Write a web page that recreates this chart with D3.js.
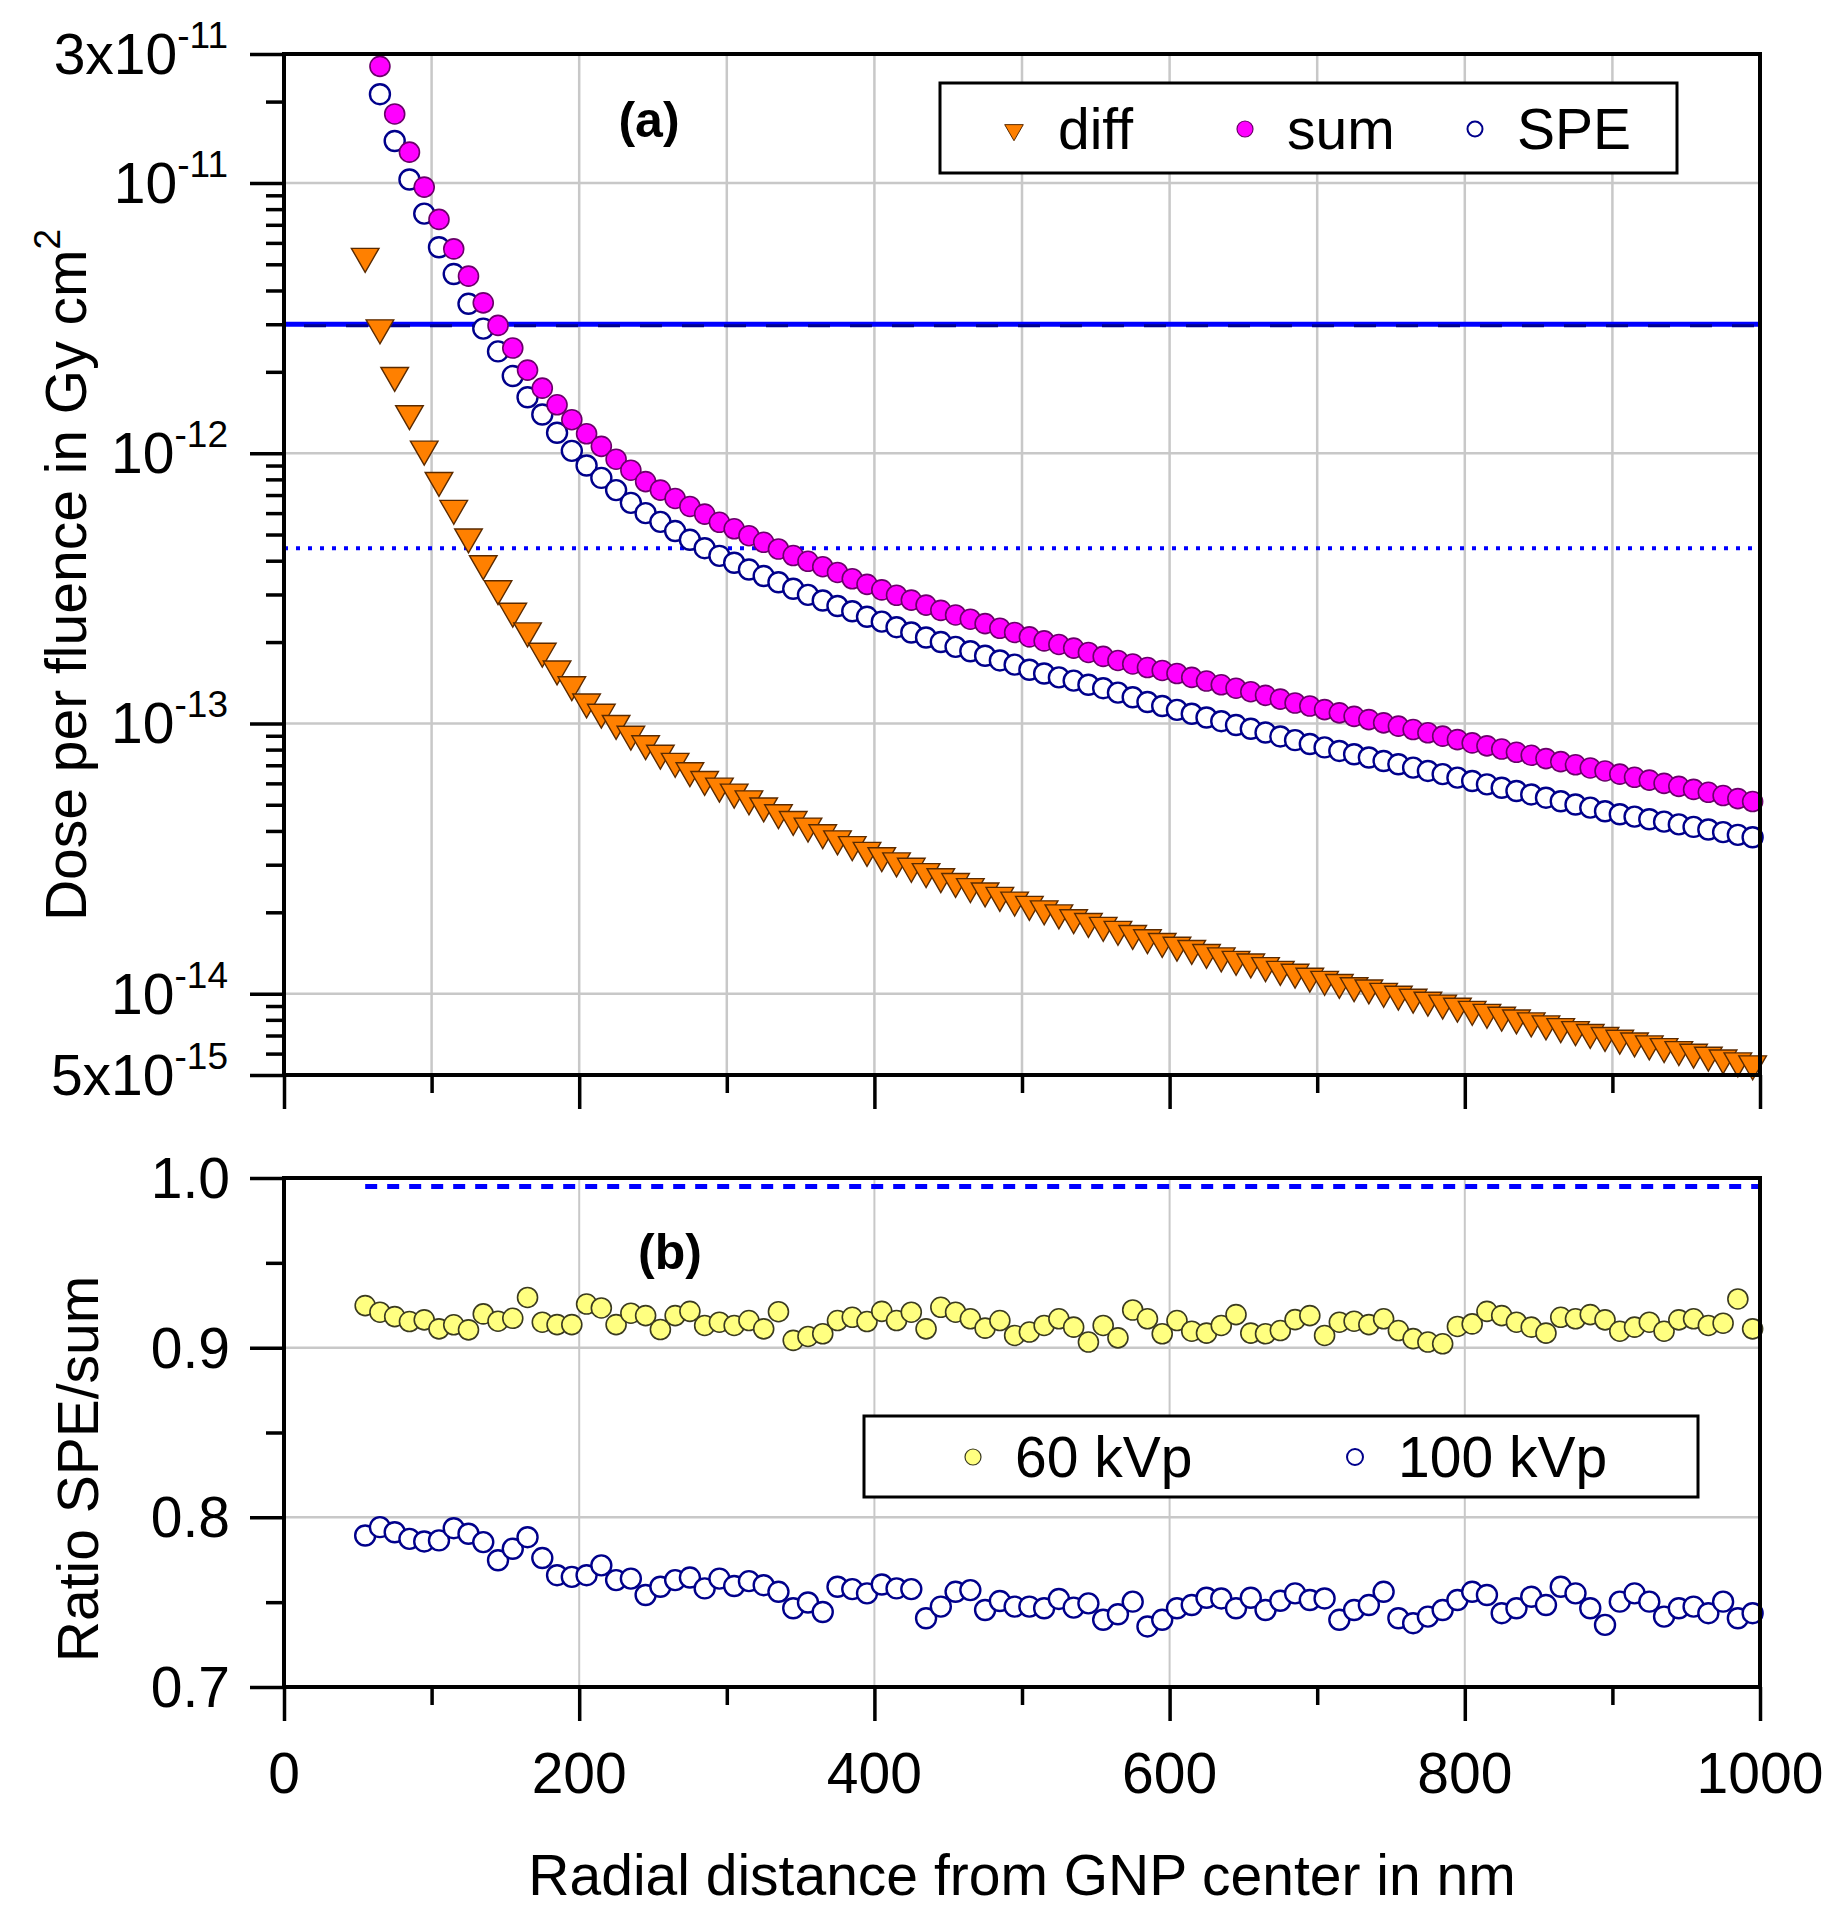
<!DOCTYPE html>
<html>
<head>
<meta charset="utf-8">
<script src="https://cdnjs.cloudflare.com/ajax/libs/d3/7.8.5/d3.min.js"></script>
<style>
  body { margin: 0; background: #fff; }
  text { font-family: Arial, "Liberation Sans", sans-serif; fill: #000; }
</style>
</head>
<body>
<div id="chart"></div>
<script>
// radial distance (nm)
var radius = [55, 65, 75, 85, 95, 105, 115, 125, 135, 145, 155, 165, 175, 185, 195,
  205, 215, 225, 235, 245, 255, 265, 275, 285, 295, 305, 315, 325, 335, 345,
  355, 365, 375, 385, 395, 405, 415, 425, 435, 445, 455, 465, 475, 485, 495,
  505, 515, 525, 535, 545, 555, 565, 575, 585, 595, 605, 615, 625, 635, 645,
  655, 665, 675, 685, 695, 705, 715, 725, 735, 745, 755, 765, 775, 785, 795,
  805, 815, 825, 835, 845, 855, 865, 875, 885, 895, 905, 915, 925, 935, 945,
  955, 965, 975, 985, 995];

// panel (a): dose per fluence, Gy cm^2
var diffDose = [5.35e-12, 2.91e-12, 1.94e-12, 1.40e-12, 1.035e-12, 7.93e-13, 6.25e-13, 4.9e-13, 3.9e-13, 3.15e-13,
  2.6e-13, 2.2e-13, 1.85e-13, 1.59e-13, 1.39e-13, 1.20e-13, 1.10e-13, 1.00e-13, 9.12e-14, 8.41e-14,
  7.76e-14, 7.24e-14, 6.68e-14, 6.20e-14, 5.86e-14, 5.57e-14, 5.26e-14, 4.95e-14, 4.67e-14, 4.41e-14,
  4.17e-14, 3.94e-14, 3.74e-14, 3.56e-14, 3.39e-14, 3.24e-14, 3.10e-14, 2.96e-14, 2.83e-14, 2.71e-14,
  2.60e-14, 2.49e-14, 2.40e-14, 2.31e-14, 2.22e-14, 2.14e-14, 2.06e-14, 1.99e-14, 1.91e-14, 1.85e-14,
  1.79e-14, 1.73e-14, 1.67e-14, 1.61e-14, 1.56e-14, 1.51e-14, 1.47e-14, 1.42e-14, 1.38e-14, 1.34e-14,
  1.31e-14, 1.27e-14, 1.23e-14, 1.20e-14, 1.16e-14, 1.13e-14, 1.10e-14, 1.07e-14, 1.05e-14, 1.02e-14,
  9.95e-15, 9.70e-15, 9.46e-15, 9.23e-15, 8.98e-15, 8.75e-15, 8.53e-15, 8.32e-15, 8.13e-15, 7.93e-15,
  7.73e-15, 7.55e-15, 7.36e-15, 7.18e-15, 7.00e-15, 6.84e-15, 6.68e-15, 6.52e-15, 6.37e-15, 6.21e-15,
  6.07e-15, 5.92e-15, 5.78e-15, 5.64e-15, 5.50e-15];

var sumDose = [null, 2.70e-11, 1.80e-11, 1.30e-11, 9.65e-12, 7.33e-12, 5.70e-12, 4.52e-12, 3.60e-12, 2.97e-12,
  2.45e-12, 2.03e-12, 1.74e-12, 1.51e-12, 1.33e-12, 1.18e-12, 1.06e-12, 9.5e-13, 8.65e-13, 7.85e-13,
  7.3e-13, 6.8e-13, 6.35e-13, 5.95e-13, 5.55e-13, 5.25e-13, 4.95e-13, 4.68e-13, 4.42e-13, 4.18e-13,
  3.98e-13, 3.80e-13, 3.62e-13, 3.43e-13, 3.27e-13, 3.12e-13, 2.98e-13, 2.86e-13, 2.74e-13, 2.62e-13,
  2.52e-13, 2.43e-13, 2.34e-13, 2.25e-13, 2.17e-13, 2.09e-13, 2.02e-13, 1.96e-13, 1.90e-13, 1.83e-13,
  1.77e-13, 1.71e-13, 1.66e-13, 1.61e-13, 1.57e-13, 1.53e-13, 1.48e-13, 1.435e-13, 1.39e-13, 1.35e-13,
  1.31e-13, 1.27e-13, 1.23e-13, 1.19e-13, 1.16e-13, 1.125e-13, 1.094e-13, 1.062e-13, 1.033e-13, 1.005e-13,
  9.77e-14, 9.49e-14, 9.23e-14, 8.97e-14, 8.71e-14, 8.47e-14, 8.26e-14, 8.04e-14, 7.82e-14, 7.62e-14,
  7.41e-14, 7.22e-14, 7.03e-14, 6.84e-14, 6.67e-14, 6.49e-14, 6.32e-14, 6.17e-14, 6.00e-14, 5.85e-14,
  5.70e-14, 5.56e-14, 5.41e-14, 5.27e-14, 5.14e-14];

var speDose = [null, 2.13e-11, 1.43e-11, 1.03e-11, 7.7e-12, 5.78e-12, 4.60e-12, 3.57e-12, 2.89e-12, 2.38e-12,
  1.93e-12, 1.61e-12, 1.39e-12, 1.19e-12, 1.02e-12, 9.0e-13, 8.1e-13, 7.3e-13, 6.55e-13, 6.0e-13,
  5.57e-13, 5.15e-13, 4.78e-13, 4.45e-13, 4.17e-13, 3.93e-13, 3.71e-13, 3.51e-13, 3.33e-13, 3.15e-13,
  2.99e-13, 2.85e-13, 2.72e-13, 2.60e-13, 2.48e-13, 2.38e-13, 2.27e-13, 2.17e-13, 2.08e-13, 2.00e-13,
  1.92e-13, 1.85e-13, 1.78e-13, 1.71e-13, 1.65e-13, 1.58e-13, 1.53e-13, 1.48e-13, 1.44e-13, 1.39e-13,
  1.35e-13, 1.30e-13, 1.25e-13, 1.20e-13, 1.16e-13, 1.122e-13, 1.086e-13, 1.052e-13, 1.019e-13, 9.86e-14,
  9.55e-14, 9.25e-14, 8.95e-14, 8.67e-14, 8.39e-14, 8.15e-14, 7.91e-14, 7.69e-14, 7.48e-14, 7.26e-14,
  7.06e-14, 6.86e-14, 6.67e-14, 6.49e-14, 6.30e-14, 6.12e-14, 5.95e-14, 5.78e-14, 5.62e-14, 5.46e-14,
  5.31e-14, 5.15e-14, 5.01e-14, 4.88e-14, 4.73e-14, 4.61e-14, 4.52e-14, 4.42e-14, 4.33e-14, 4.23e-14,
  4.14e-14, 4.05e-14, 3.96e-14, 3.87e-14, 3.79e-14];

// panel (b): ratio SPE/sum
var ratio60 = [0.9248, 0.9209, 0.9183, 0.9154, 0.9164, 0.9111, 0.9135, 0.9105, 0.9199, 0.9156,
  0.9173, 0.9296, 0.9150, 0.9136, 0.9136, 0.9257, 0.9234, 0.9136, 0.9203, 0.9189,
  0.9107, 0.9189, 0.9214, 0.9131, 0.9150, 0.9131, 0.9160, 0.9111, 0.9212, 0.9043,
  0.9066, 0.9082, 0.9160, 0.9179, 0.9154, 0.9214, 0.9160, 0.9209, 0.9111, 0.9238,
  0.9209, 0.9170, 0.9115, 0.9160, 0.9072, 0.9092, 0.9131, 0.9170, 0.9121, 0.9033,
  0.9131, 0.9058, 0.9222, 0.9170, 0.9082, 0.9160, 0.9097, 0.9086, 0.9131, 0.9195,
  0.9086, 0.9082, 0.9101, 0.9165, 0.9189, 0.9072, 0.9150, 0.9156, 0.9136, 0.9170,
  0.9101, 0.9053, 0.9033, 0.9023, 0.9125, 0.9140, 0.9214, 0.9189, 0.9150, 0.9121,
  0.9086, 0.9179, 0.9170, 0.9195, 0.9164, 0.9097, 0.9121, 0.9150, 0.9097, 0.9164,
  0.9170, 0.9131, 0.9144, 0.9287, 0.9111];

var ratio100 = [0.7893, 0.7942, 0.7912, 0.7873, 0.7858, 0.7864, 0.7936, 0.7903, 0.7854, 0.7747,
  0.7815, 0.7883, 0.7760, 0.7659, 0.7649, 0.7659, 0.7717, 0.7630, 0.7639, 0.7542,
  0.7591, 0.7630, 0.7645, 0.7581, 0.7639, 0.7595, 0.7624, 0.7600, 0.7561, 0.7464,
  0.7498, 0.7442, 0.7591, 0.7577, 0.7552, 0.7604, 0.7581, 0.7577, 0.7405, 0.7474,
  0.7561, 0.7571, 0.7454, 0.7507, 0.7474, 0.7474, 0.7464, 0.7519, 0.7468, 0.7493,
  0.7396, 0.7429, 0.7503, 0.7357, 0.7396, 0.7464, 0.7483, 0.7526, 0.7522, 0.7464,
  0.7526, 0.7454, 0.7508, 0.7552, 0.7513, 0.7522, 0.7396, 0.7454, 0.7483, 0.7561,
  0.7405, 0.7376, 0.7415, 0.7454, 0.7513, 0.7561, 0.7542, 0.7435, 0.7464, 0.7532,
  0.7483, 0.7591, 0.7552, 0.7464, 0.7366, 0.7503, 0.7552, 0.7503, 0.7415, 0.7464,
  0.7474, 0.7435, 0.7503, 0.7405, 0.7435];

// reference lines
var refSolid = 3.0e-12;
var refDashed = 2.96e-12;
var refDotted = 4.45e-13;
var refRatio = 0.995;

// ticks
var distTicks = [0, 200, 400, 600, 800, 1000];
var distMinor = [100, 300, 500, 700, 900];
var distGridA = [100, 200, 300, 400, 500, 600, 700, 800, 900];
var distGridB = [200, 400, 600, 800];
var doseTicks = [3e-11, 1e-11, 1e-12, 1e-13, 1e-14, 5e-15];
var doseTickBase = ["3x10", "10", "10", "10", "10", "5x10"];
var doseTickExp = ["-11", "-11", "-12", "-13", "-14", "-15"];
var doseMinor = [2e-11, 9e-12, 8e-12, 7e-12, 6e-12, 5e-12, 4e-12, 3e-12, 2e-12,
  9e-13, 8e-13, 7e-13, 6e-13, 5e-13, 4e-13, 3e-13, 2e-13,
  9e-14, 8e-14, 7e-14, 6e-14, 5e-14, 4e-14, 3e-14, 2e-14,
  9e-15, 8e-15, 7e-15, 6e-15];
var doseGrid = [1e-11, 1e-12, 1e-13, 1e-14];
var ratioTicks = [0.7, 0.8, 0.9, 1.0];
var ratioTickLabels = ["0.7", "0.8", "0.9", "1.0"];
var ratioMinor = [0.75, 0.85, 0.95];
var ratioGrid = [0.8, 0.9];

var svgWidth = 1835;
var svgHeight = 1920;

var svg = d3.select("#chart")
  .append("svg")
  .attr("width", svgWidth)
  .attr("height", svgHeight)
  .style("background", "#fff");

var left = 284, right = 1760;
var aTop = 54, aBottom = 1075;
var bTop = 1178, bBottom = 1687;

var xScale = d3.scaleLinear().domain([0, 1000]).range([left, right]);
var yDose = d3.scaleLog().domain([5e-15, 3e-11]).range([aBottom, aTop]);
var yRatio = d3.scaleLinear().domain([0.7, 1.0]).range([bBottom, bTop]);

var gridColor = "#c8c8c8";
var markerR = 10;

// grid lines
svg.append("g").selectAll("line")
  .data(distGridA).enter().append("line")
  .attr("x1", d => xScale(d)).attr("x2", d => xScale(d))
  .attr("y1", aTop).attr("y2", aBottom)
  .attr("stroke", gridColor).attr("stroke-width", 2.5);
svg.append("g").selectAll("line")
  .data(doseGrid).enter().append("line")
  .attr("x1", left).attr("x2", right)
  .attr("y1", d => yDose(d)).attr("y2", d => yDose(d))
  .attr("stroke", gridColor).attr("stroke-width", 2.5);
svg.append("g").selectAll("line")
  .data(distGridB).enter().append("line")
  .attr("x1", d => xScale(d)).attr("x2", d => xScale(d))
  .attr("y1", bTop).attr("y2", bBottom)
  .attr("stroke", gridColor).attr("stroke-width", 2);
svg.append("g").selectAll("line")
  .data(ratioGrid).enter().append("line")
  .attr("x1", left).attr("x2", right)
  .attr("y1", d => yRatio(d)).attr("y2", d => yRatio(d))
  .attr("stroke", gridColor).attr("stroke-width", 2.5);

// reference lines in (a)
svg.append("line")
  .attr("x1", left).attr("x2", right)
  .attr("y1", yDose(refSolid)).attr("y2", yDose(refSolid))
  .attr("stroke", "#0000ff").attr("stroke-width", 5);
svg.append("line")
  .attr("x1", left + 20).attr("x2", right)
  .attr("y1", yDose(refDashed)).attr("y2", yDose(refDashed))
  .attr("stroke", "#000090").attr("stroke-width", 3)
  .attr("stroke-dasharray", "22,20");
svg.append("line")
  .attr("x1", left).attr("x2", right)
  .attr("y1", yDose(refDotted)).attr("y2", yDose(refDotted))
  .attr("stroke", "#0000ff").attr("stroke-width", 4)
  .attr("stroke-dasharray", "4,8");

// reference line in (b)
svg.append("line")
  .attr("x1", xScale(radius[0])).attr("x2", right)
  .attr("y1", yRatio(refRatio)).attr("y2", yRatio(refRatio))
  .attr("stroke", "#0000ff").attr("stroke-width", 5)
  .attr("stroke-dasharray", "12,10");

// series (a)
var doseData = radius.map((r, i) => ({ r: r, diff: diffDose[i], sum: sumDose[i], spe: speDose[i] }));

var triangle = d3.symbol().type(d3.symbolTriangle).size(330);

svg.append("g").selectAll("path")
  .data(doseData).enter().append("path")
  .attr("d", triangle)
  .attr("transform", d => `translate(${xScale(d.r)}, ${yDose(d.diff)}) rotate(180)`)
  .attr("fill", "#ff8000")
  .attr("stroke", "#5a2a00")
  .attr("stroke-width", 1.4);

svg.append("g").selectAll("circle")
  .data(doseData.filter(d => d.spe != null)).enter().append("circle")
  .attr("cx", d => xScale(d.r))
  .attr("cy", d => yDose(d.spe))
  .attr("r", markerR)
  .attr("fill", "#fff")
  .attr("stroke", "#00008b")
  .attr("stroke-width", 2.4);

svg.append("g").selectAll("circle")
  .data(doseData.filter(d => d.sum != null)).enter().append("circle")
  .attr("cx", d => xScale(d.r))
  .attr("cy", d => yDose(d.sum))
  .attr("r", markerR)
  .attr("fill", "#ff00ff")
  .attr("stroke", "#6a006a")
  .attr("stroke-width", 1.6);

// series (b)
var ratioData = radius.map((r, i) => ({ r: r, v60: ratio60[i], v100: ratio100[i] }));

svg.append("g").selectAll("circle")
  .data(ratioData).enter().append("circle")
  .attr("cx", d => xScale(d.r))
  .attr("cy", d => yRatio(d.v60))
  .attr("r", markerR)
  .attr("fill", "#ffff80")
  .attr("stroke", "#3a3a20")
  .attr("stroke-width", 1.6);

svg.append("g").selectAll("circle")
  .data(ratioData).enter().append("circle")
  .attr("cx", d => xScale(d.r))
  .attr("cy", d => yRatio(d.v100))
  .attr("r", markerR)
  .attr("fill", "#fff")
  .attr("stroke", "#00008b")
  .attr("stroke-width", 2.4);

// axes (ticks only, frames drawn below)
function ticksOnly(g) {
  g.select(".domain").remove();
  g.selectAll("line").attr("stroke", "#000").attr("stroke-width", 3.5);
}

svg.append("g")
  .attr("transform", `translate(${left}, 0)`)
  .call(d3.axisLeft(yDose).tickValues(doseTicks).tickSize(34).tickFormat(""))
  .call(ticksOnly);
svg.append("g")
  .attr("transform", `translate(${left}, 0)`)
  .call(d3.axisLeft(yDose).tickValues(doseMinor).tickSize(18).tickFormat(""))
  .call(ticksOnly);
svg.append("g")
  .attr("transform", `translate(${left}, 0)`)
  .call(d3.axisLeft(yRatio).tickValues(ratioTicks).tickSize(34).tickFormat(""))
  .call(ticksOnly);
svg.append("g")
  .attr("transform", `translate(${left}, 0)`)
  .call(d3.axisLeft(yRatio).tickValues(ratioMinor).tickSize(18).tickFormat(""))
  .call(ticksOnly);

[aBottom, bBottom].forEach(function (yb) {
  svg.append("g")
    .attr("transform", `translate(0, ${yb})`)
    .call(d3.axisBottom(xScale).tickValues(distTicks).tickSize(34).tickFormat(""))
    .call(ticksOnly);
  svg.append("g")
    .attr("transform", `translate(0, ${yb})`)
    .call(d3.axisBottom(xScale).tickValues(distMinor).tickSize(18).tickFormat(""))
    .call(ticksOnly);
});

// frames
svg.append("rect")
  .attr("x", left).attr("y", aTop)
  .attr("width", right - left).attr("height", aBottom - aTop)
  .attr("fill", "none").attr("stroke", "#000").attr("stroke-width", 4);
svg.append("rect")
  .attr("x", left).attr("y", bTop)
  .attr("width", right - left).attr("height", bBottom - bTop)
  .attr("fill", "none").attr("stroke", "#000").attr("stroke-width", 4);

// tick labels
var doseLabels = svg.append("g").selectAll("text")
  .data(doseTicks).enter().append("text")
  .attr("x", 228)
  .attr("y", d => yDose(d) + 20)
  .attr("text-anchor", "end")
  .style("font-size", "57px");
doseLabels.append("tspan").text((d, i) => doseTickBase[i]);
doseLabels.append("tspan")
  .attr("dy", -26)
  .style("font-size", "37px")
  .text((d, i) => doseTickExp[i]);

svg.append("g").selectAll("text")
  .data(ratioTicks).enter().append("text")
  .attr("x", 230)
  .attr("y", d => yRatio(d) + 20)
  .attr("text-anchor", "end")
  .style("font-size", "57px")
  .text((d, i) => ratioTickLabels[i]);

svg.append("g").selectAll("text")
  .data(distTicks).enter().append("text")
  .attr("x", d => xScale(d))
  .attr("y", 1793)
  .attr("text-anchor", "middle")
  .style("font-size", "57px")
  .text(d => d);

// axis titles
svg.append("text")
  .attr("x", (left + right) / 2)
  .attr("y", 1895)
  .attr("text-anchor", "middle")
  .style("font-size", "57px")
  .text("Radial distance from GNP center in nm");

var yTitleA = svg.append("text")
  .attr("transform", "translate(86, 575) rotate(-90)")
  .attr("text-anchor", "middle")
  .style("font-size", "57px");
yTitleA.append("tspan").text("Dose per fluence in Gy cm");
yTitleA.append("tspan").attr("dy", -26).style("font-size", "37px").text("2");

svg.append("text")
  .attr("transform", "translate(98, 1469) rotate(-90)")
  .attr("text-anchor", "middle")
  .style("font-size", "57px")
  .text("Ratio SPE/sum");

// panel labels
svg.append("text")
  .attr("x", 649).attr("y", 137)
  .attr("text-anchor", "middle")
  .style("font-size", "50px").style("font-weight", "bold")
  .text("(a)");
svg.append("text")
  .attr("x", 670).attr("y", 1269)
  .attr("text-anchor", "middle")
  .style("font-size", "50px").style("font-weight", "bold")
  .text("(b)");

// legend (a)
var legA = svg.append("g");
legA.append("rect")
  .attr("x", 940).attr("y", 83).attr("width", 737).attr("height", 90)
  .attr("fill", "#fff").attr("stroke", "#000").attr("stroke-width", 3);
legA.append("path")
  .attr("d", d3.symbol().type(d3.symbolTriangle).size(150))
  .attr("transform", "translate(1014, 130) rotate(180)")
  .attr("fill", "#ff8000").attr("stroke", "#5a2a00").attr("stroke-width", 1);
legA.append("text").attr("x", 1058).attr("y", 149).style("font-size", "57px").text("diff");
legA.append("circle")
  .attr("cx", 1245).attr("cy", 129).attr("r", 8)
  .attr("fill", "#ff00ff").attr("stroke", "#6a006a").attr("stroke-width", 1.2);
legA.append("text").attr("x", 1287).attr("y", 149).style("font-size", "57px").text("sum");
legA.append("circle")
  .attr("cx", 1475).attr("cy", 129).attr("r", 7.5)
  .attr("fill", "#fff").attr("stroke", "#00008b").attr("stroke-width", 2);
legA.append("text").attr("x", 1517).attr("y", 149).style("font-size", "57px").text("SPE");

// legend (b)
var legB = svg.append("g");
legB.append("rect")
  .attr("x", 864).attr("y", 1416).attr("width", 834).attr("height", 81)
  .attr("fill", "#fff").attr("stroke", "#000").attr("stroke-width", 3);
legB.append("circle")
  .attr("cx", 973).attr("cy", 1457).attr("r", 8)
  .attr("fill", "#ffff80").attr("stroke", "#3a3a20").attr("stroke-width", 1.2);
legB.append("text").attr("x", 1015).attr("y", 1477).style("font-size", "57px").text("60 kVp");
legB.append("circle")
  .attr("cx", 1355).attr("cy", 1457).attr("r", 8)
  .attr("fill", "#fff").attr("stroke", "#00008b").attr("stroke-width", 2);
legB.append("text").attr("x", 1398).attr("y", 1477).style("font-size", "57px").text("100 kVp");
</script>
</body>
</html>
